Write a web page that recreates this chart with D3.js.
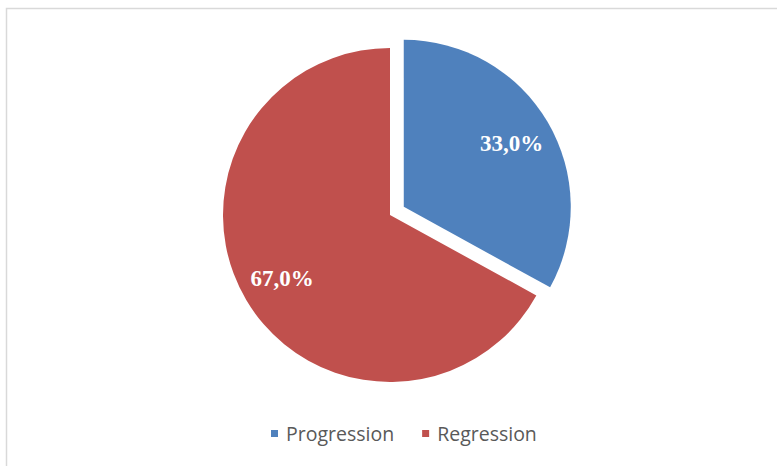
<!DOCTYPE html>
<html>
<head>
<meta charset="utf-8">
<script src="https://cdn.jsdelivr.net/npm/d3@7.9.0/dist/d3.min.js"></script>
<style>
  html, body { margin: 0; padding: 0; background: #fff; }
  svg { display: block; }
</style>
</head>
<body>
<svg id="chart" width="777" height="466"></svg>
<script>
const labels = ["Progression", "Regression"];
const values = [33.0, 67.0];
const colors = ["#4F81BD", "#C0504D"];

const svg = d3.select("#chart");

// chart area frame (runs off the right and bottom edges)
svg.append("rect")
  .attr("x", 6.5).attr("y", 8.5)
  .attr("width", 800).attr("height", 500)
  .attr("fill", "none")
  .attr("stroke", "#d9d9d9")
  .attr("stroke-width", 1.5);

const cx = 390, cy = 215, r = 167, explode = 16;

const data = labels.map((label, i) => ({ label, value: values[i] }));
const pie = d3.pie().sort(null).value(d => d.value);
const arc = d3.arc().innerRadius(0).outerRadius(r);
const arcs = pie(data);

const g = svg.append("g").attr("transform", `translate(${cx},${cy})`);

arcs.forEach((d, i) => {
  const mid = (d.startAngle + d.endAngle) / 2;
  const off = i === 0 ? explode : 0;
  const dx = Math.sin(mid) * off, dy = -Math.cos(mid) * off;
  const sg = g.append("g").attr("transform", `translate(${dx},${dy})`);
  sg.append("path").attr("d", arc(d)).attr("fill", colors[i]);
  const lp = d3.arc().innerRadius(r * 0.75).outerRadius(r * 0.75).centroid(d);
  sg.append("text")
    .attr("x", lp[0]).attr("y", lp[1])
    .attr("text-anchor", "middle")
    .attr("dominant-baseline", "central")
    .attr("fill", "#fff")
    .attr("font-family", "'Liberation Serif', 'Times New Roman', serif")
    .attr("font-weight", "bold")
    .attr("font-size", 23)
    .text(d3.format(".1f")(d.value).replace(".", ",") + "%");
});

// legend
const legend = svg.append("g").attr("transform", "translate(271,436)");
let x = 0;
labels.forEach((label, i) => {
  legend.append("rect").attr("x", x).attr("y", -6).attr("width", 7).attr("height", 7)
    .attr("fill", colors[i]);
  const t = legend.append("text")
    .attr("x", x + 15).attr("y", 0)
    .attr("dominant-baseline", "middle")
    .attr("fill", "#595959")
    .attr("font-family", "'Open Sans', sans-serif")
    .attr("font-size", 19.5)
    .text(label);
  x += 15 + t.node().getComputedTextLength() + 28;
});
</script>
</body>
</html>
